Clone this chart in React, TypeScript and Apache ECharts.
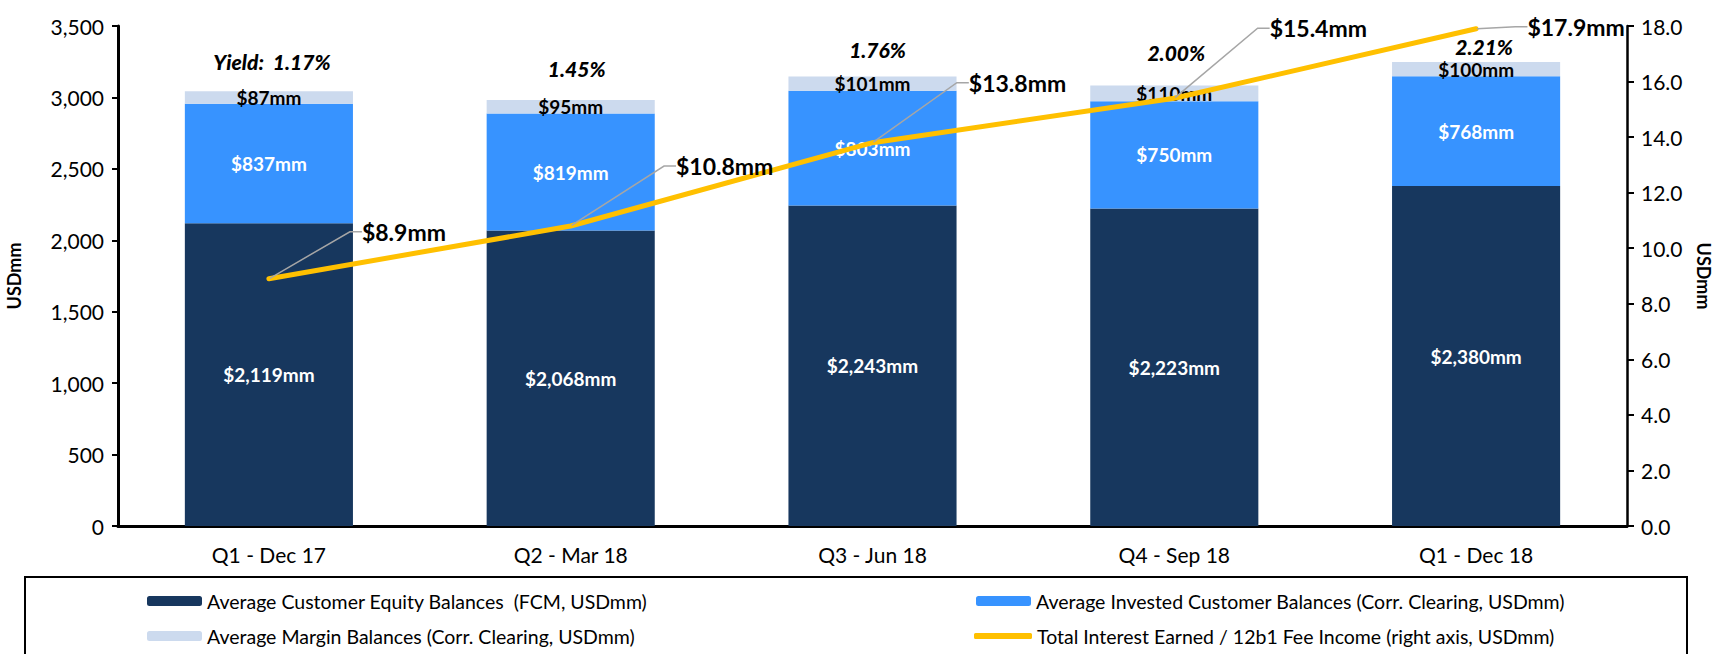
import React, { useEffect, useRef } from "react";
import * as echarts from "echarts";

// ---- data ----
const categories = ["Q1 - Dec 17", "Q2 - Mar 18", "Q3 - Jun 18", "Q4 - Sep 18", "Q1 - Dec 18"];
const equityBalances = [2119, 2068, 2243, 2223, 2380];
const investedBalances = [837, 819, 803, 750, 768];
const marginBalances = [87, 95, 101, 110, 100];
const interestIncome = [8.9, 10.8, 13.8, 15.4, 17.9];
const yields = ["1.17%", "1.45%", "1.76%", "2.00%", "2.21%"];
const yieldPrefix = "Yield:  ";

const seriesNames = [
  "Average Customer Equity Balances  (FCM, USDmm)",
  "Average Invested Customer Balances (Corr. Clearing, USDmm)",
  "Average Margin Balances (Corr. Clearing, USDmm)",
  "Total Interest Earned / 12b1 Fee Income (right axis, USDmm)",
];

const leftAxis = { min: 0, max: 3500, interval: 500 };
const rightAxis = { min: 0, max: 18, interval: 2 };

// ---- styling (label shifts, not data) ----
const incomeLabelShift = [
  [135, -47],
  [154, -60],
  [145, -60],
  [144, -70],
  [100, -2],
];
const yieldLabelShift = [
  [3, -30],
  [6, -32],
  [5, -27],
  [2, -33],
  [8, -16],
];

const FONT = "Lato, 'Open Sans', sans-serif";
const NAVY = "#17375E";
const BLUE = "#3793FF";
const LIGHT = "#CCDAEE";
const GOLD = "#FFC000";

const fmtMM = (v: number) => "$" + v.toLocaleString("en-US") + "mm";

export default function App() {
  const ref = useRef<HTMLDivElement>(null);

  useEffect(() => {
    if (!ref.current) return;
    const chart = echarts.init(ref.current, undefined, { renderer: "svg" });

    const totals = equityBalances.map((v, i) => v + investedBalances[i] + marginBalances[i]);

    const legendBase = {
      orient: "horizontal" as const,
      itemWidth: 55,
      itemHeight: 10,
      itemGap: 5,
      textStyle: { fontFamily: FONT, fontSize: 19.5, color: "#000" },
      selectedMode: false,
    };

    chart.setOption({
      animation: false,
      textStyle: { fontFamily: FONT },
      grid: {
        left: 118,
        right: 90,
        top: 26,
        bottom: 128,
        containLabel: false,
        outerBoundsMode: "none",
      },
      legend: [
        { ...legendBase, data: [seriesNames[0]], left: 142, top: 586 },
        { ...legendBase, data: [seriesNames[1]], left: 971, top: 586 },
        { ...legendBase, data: [seriesNames[2]], left: 142, top: 621 },
        {
          ...legendBase,
          data: [{ name: seriesNames[3], icon: "roundRect" }],
          left: 969,
          top: 621,
          itemWidth: 58,
          itemHeight: 6,
        },
      ],
      graphic: [
        {
          type: "rect",
          shape: { x: 25, y: 577, width: 1662, height: 100 },
          style: { fill: "none", stroke: "#000", lineWidth: 2 },
          silent: true,
        },
      ],
      xAxis: {
        type: "category",
        data: categories,
        axisLine: { lineStyle: { color: "#000", width: 3 } },
        axisTick: { show: false },
        axisLabel: { fontFamily: FONT, fontSize: 21, color: "#000", margin: 18 },
      },
      yAxis: [
        {
          type: "value",
          ...leftAxis,
          position: "left",
          name: "USDmm",
          nameLocation: "middle",
          nameRotate: 90,
          nameGap: 95,
          nameTextStyle: { fontFamily: FONT, fontSize: 18, fontWeight: "bold", color: "#000" },
          splitLine: { show: false },
          axisLine: { show: true, lineStyle: { color: "#000", width: 3 } },
          axisTick: { show: true, length: 6, lineStyle: { color: "#000", width: 2 } },
          axisLabel: {
            fontFamily: FONT,
            fontSize: 21,
            color: "#000",
            margin: 14,
            formatter: (v: number) => v.toLocaleString("en-US"),
          },
        },
        {
          type: "value",
          ...rightAxis,
          position: "right",
          name: "USDmm",
          nameLocation: "middle",
          nameRotate: -90,
          nameGap: 68,
          nameTextStyle: { fontFamily: FONT, fontSize: 18, fontWeight: "bold", color: "#000" },
          splitLine: { show: false },
          axisLine: { show: true, lineStyle: { color: "#000", width: 2.5 } },
          axisTick: { show: true, length: 7, lineStyle: { color: "#000", width: 2 } },
          axisLabel: {
            fontFamily: FONT,
            fontSize: 21,
            color: "#000",
            margin: 14,
            formatter: (v: number) => v.toFixed(1),
          },
        },
      ],
      series: [
        {
          name: seriesNames[0],
          type: "bar",
          stack: "bal",
          barWidth: "55.7%",
          data: equityBalances,
          itemStyle: { color: NAVY },
          label: {
            show: true,
            position: "inside",
            color: "#fff",
            fontFamily: FONT,
            fontWeight: "bold",
            fontSize: 19,
            formatter: (p: any) => fmtMM(p.value),
          },
        },
        {
          name: seriesNames[1],
          type: "bar",
          stack: "bal",
          data: investedBalances,
          itemStyle: { color: BLUE },
          label: {
            show: true,
            position: "inside",
            color: "#fff",
            fontFamily: FONT,
            fontWeight: "bold",
            fontSize: 19,
            formatter: (p: any) => fmtMM(p.value),
          },
        },
        {
          name: seriesNames[2],
          type: "bar",
          stack: "bal",
          data: marginBalances,
          itemStyle: { color: LIGHT },
          label: {
            show: true,
            position: "inside",
            color: "#000",
            fontFamily: FONT,
            fontWeight: "bold",
            fontSize: 19,
            formatter: (p: any) => fmtMM(p.value),
          },
        },
        {
          name: "yield",
          type: "scatter",
          data: totals,
          symbolSize: 0,
          silent: true,
          z: 5,
          itemStyle: { opacity: 1, color: "#000" },
          label: {
            show: true,
            position: "inside",
            color: "#000",
            opacity: 1,
            fontFamily: FONT,
            fontWeight: 900,
            fontStyle: "italic",
            fontSize: 21,
            formatter: (p: any) => (p.dataIndex === 0 ? yieldPrefix : "") + yields[p.dataIndex],
          },
          labelLayout: (p: any) => ({
            dx: yieldLabelShift[p.dataIndex][0],
            dy: yieldLabelShift[p.dataIndex][1],
          }),
        },
        {
          name: seriesNames[3],
          type: "line",
          yAxisIndex: 1,
          data: interestIncome,
          symbol: "circle",
          symbolSize: 2,
          showSymbol: true,
          z: 10,
          itemStyle: { color: GOLD },
          lineStyle: { color: GOLD, width: 5, cap: "round", join: "round" },
          label: {
            show: true,
            position: "inside",
            color: "#000",
            fontFamily: FONT,
            fontWeight: "bold",
            fontSize: 23,
            formatter: (p: any) => "$" + p.value.toFixed(1) + "mm",
          },
          labelLayout: (p: any) => ({
            dx: incomeLabelShift[p.dataIndex][0],
            dy: incomeLabelShift[p.dataIndex][1],
          }),
          labelLine: {
            show: true,
            length2: 12,
            smooth: false,
            lineStyle: { color: "#A6A6A6", width: 1.5 },
          },
        },
      ],
    });

    return () => chart.dispose();
  }, []);

  return (
    <div
      ref={ref}
      style={{ position: "fixed", left: 0, top: 0, width: 1717, height: 654, background: "#fff" }}
    />
  );
}
